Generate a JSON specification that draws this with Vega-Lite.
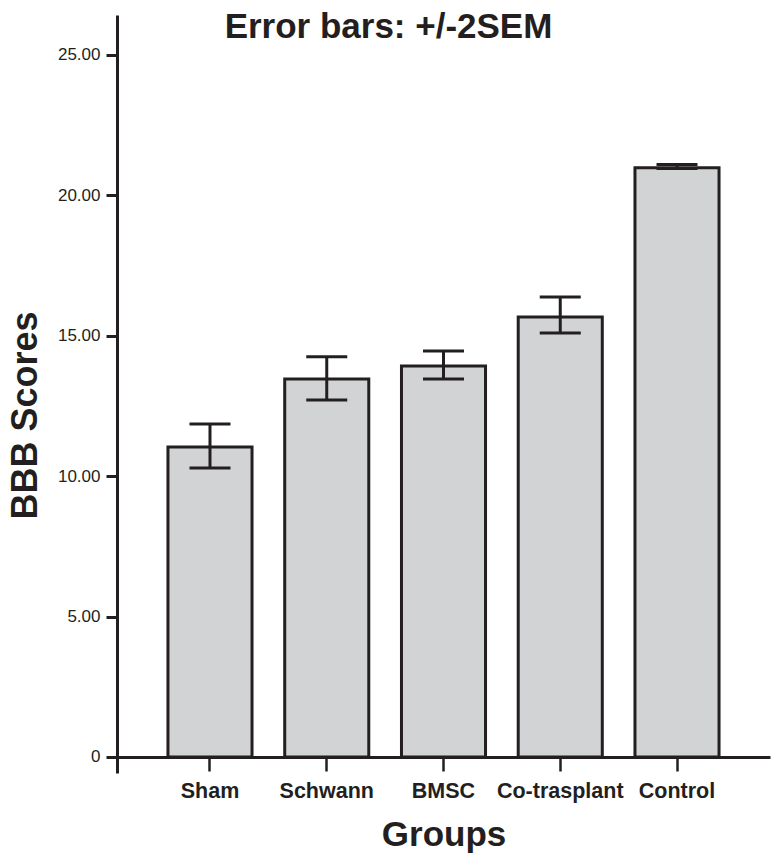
{
  "$schema": "https://vega.github.io/schema/vega-lite/v6.json",
  "width": 653,
  "height": 758,
  "autosize": "none",
  "padding": {"left": 117, "top": 15, "right": 10, "bottom": 89},
  "background": "white",
  "config": {
    "view": {"stroke": null},
    "font": "Liberation Sans"
  },
  "title": {
    "text": "Error bars: +/-2SEM",
    "anchor": "middle",
    "frame": "group",
    "dx": -55,
    "dy": 34,
    "offset": -24,
    "baseline": "alphabetic",
    "fontSize": 35,
    "fontWeight": "bold",
    "font": "Liberation Sans",
    "color": "#231f20"
  },
  "data": {
    "values": [
      {"Group": "Sham", "mean": 11.04, "lo": 10.29, "hi": 11.86},
      {"Group": "Schwann", "mean": 13.46, "lo": 12.71, "hi": 14.25},
      {"Group": "BMSC", "mean": 13.92, "lo": 13.46, "hi": 14.46},
      {"Group": "Co-trasplant", "mean": 15.67, "lo": 15.1, "hi": 16.38},
      {"Group": "Control", "mean": 20.98, "lo": 20.95, "hi": 21.1}
    ]
  },
  "encoding": {
    "x": {
      "field": "Group",
      "type": "nominal",
      "sort": null,
      "scale": {"paddingInner": 0.28, "paddingOuter": 0.4365},
      "axis": {
        "title": "Groups",
        "orient": "bottom",
        "offset": -16,
        "domainWidth": 3,
        "domainColor": "#231f20",
        "tickSize": 14,
        "tickWidth": 2.5,
        "tickColor": "#231f20",
        "labelAngle": 0,
        "labelFontSize": 21.5,
        "labelFontWeight": "bold",
        "labelFont": "Liberation Sans",
        "labelColor": "#231f20",
        "labelBaseline": "alphabetic",
        "labelPadding": 26,
        "titleFontSize": 35,
        "titleFontWeight": "bold",
        "titleFont": "Liberation Sans",
        "titleColor": "#231f20",
        "titleBaseline": "alphabetic",
        "titleY": 88
      }
    }
  },
  "layer": [
    {
      "mark": {"type": "bar", "fill": "#d2d3d5", "stroke": "#231f20", "strokeWidth": 3},
      "encoding": {
        "y": {
          "field": "mean",
          "type": "quantitative",
          "title": "BBB Scores",
          "scale": {"domain": [-0.57, 26.42], "nice": false, "zero": false},
          "axis": {
            "title": "BBB Scores",
            "values": [0, 5, 10, 15, 20, 25],
            "labelExpr": "datum.value == 0 ? '0' : format(datum.value, '.2f')",
            "grid": false,
            "domainWidth": 3,
            "domainColor": "#231f20",
            "tickSize": 11,
            "tickWidth": 3,
            "tickColor": "#231f20",
            "labelFontSize": 17,
            "labelFont": "Liberation Sans",
            "labelColor": "#231f20",
            "labelPadding": 6,
            "titleFontSize": 36,
            "titleFontWeight": "bold",
            "titleFont": "Liberation Sans",
            "titleColor": "#231f20",
            "titleAngle": -90,
            "titleAlign": "center",
            "titleBaseline": "alphabetic",
            "titleX": -81,
            "titleY": 400
          }
        }
      }
    },
    {
      "mark": {"type": "rule", "stroke": "#231f20", "strokeWidth": 3},
      "encoding": {
        "y": {"field": "lo", "type": "quantitative", "title": "BBB Scores"},
        "y2": {"field": "hi"}
      }
    },
    {
      "mark": {"type": "tick", "color": "#231f20", "size": 41, "thickness": 3, "orient": "horizontal", "opacity": 1},
      "encoding": {
        "y": {"field": "hi", "type": "quantitative", "title": "BBB Scores"}
      }
    },
    {
      "mark": {"type": "tick", "color": "#231f20", "size": 41, "thickness": 3, "orient": "horizontal", "opacity": 1},
      "encoding": {
        "y": {"field": "lo", "type": "quantitative", "title": "BBB Scores"}
      }
    }
  ]
}
